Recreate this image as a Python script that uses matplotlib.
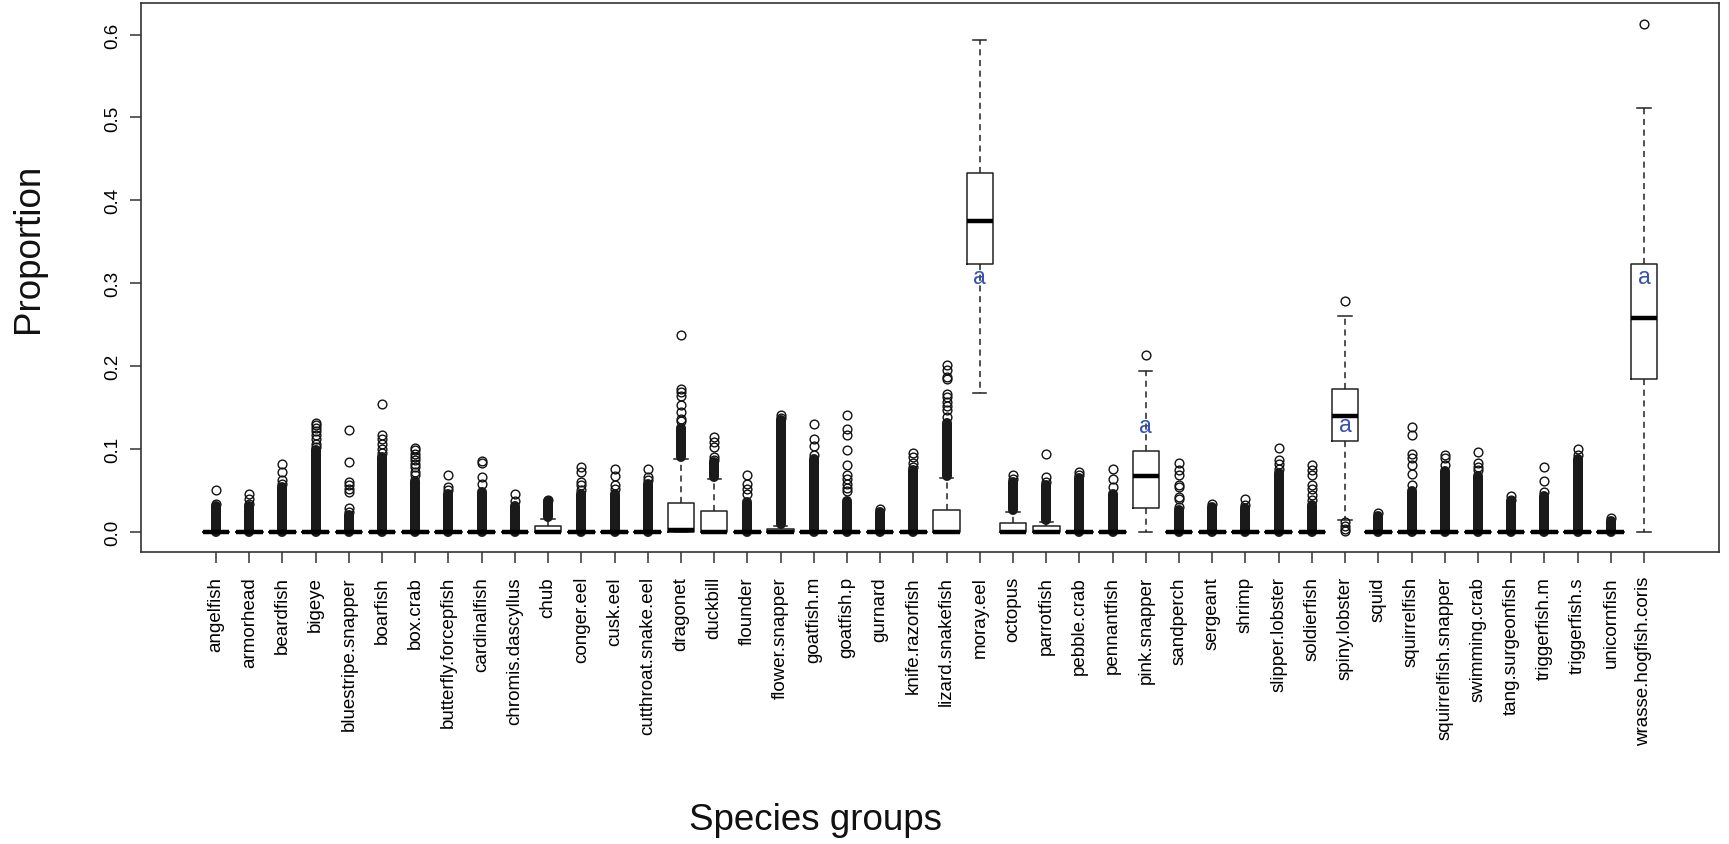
import numpy as np
import matplotlib
matplotlib.use('Agg')
import matplotlib.pyplot as plt

plt.rcParams['font.family'] = ['Liberation Sans', 'DejaVu Sans']

# species groups (x axis order)
groups = ['angelfish', 'armorhead', 'beardfish', 'bigeye', 'bluestripe.snapper', 'boarfish',
          'box.crab', 'butterfly.forcepfish', 'cardinalfish', 'chromis.dascyllus', 'chub',
          'conger.eel', 'cusk.eel', 'cutthroat.snake.eel', 'dragonet', 'duckbill', 'flounder',
          'flower.snapper', 'goatfish.m', 'goatfish.p', 'gurnard', 'knife.razorfish',
          'lizard.snakefish', 'moray.eel', 'octopus', 'parrotfish', 'pebble.crab', 'pennantfish',
          'pink.snapper', 'sandperch', 'sergeant', 'shrimp', 'slipper.lobster', 'soldierfish',
          'spiny.lobster', 'squid', 'squirrelfish', 'squirrelfish.snapper', 'swimming.crab',
          'tang.surgeonfish', 'triggerfish.m', 'triggerfish.s', 'unicornfish',
          'wrasse.hogfish.coris']

# box statistics
q1 = [0, 0, 0, 0, 0, 0, 0, 0, 0, 0, 0, 0, 0, 0, 0, 0, 0, 0, 0, 0, 0, 0, 0, 0.323, 0, 0, 0, 0,
      0.0297, 0, 0, 0, 0, 0, 0.1095, 0, 0, 0, 0, 0, 0, 0, 0, 0.185]
med = [0, 0, 0, 0, 0, 0, 0, 0, 0, 0, 0, 0, 0, 0, 0.0024, 0, 0, 0, 0, 0, 0, 0, 0, 0.3747, 0, 0,
       0, 0, 0.0674, 0, 0, 0, 0, 0, 0.140, 0, 0, 0, 0, 0, 0, 0, 0, 0.2585]
q3 = [0, 0, 0, 0, 0, 0, 0, 0, 0, 0, 0.0072, 0, 0, 0, 0.0357, 0.0257, 0, 0.0036, 0, 0, 0, 0,
      0.0269, 0.4325, 0.0112, 0.0072, 0, 0, 0.0975, 0, 0, 0, 0, 0, 0.1721, 0, 0, 0, 0, 0, 0,
      0, 0, 0.323]
whis_lo = [0, 0, 0, 0, 0, 0, 0, 0, 0, 0, 0, 0, 0, 0, 0, 0, 0, 0, 0, 0, 0, 0, 0, 0.1681, 0, 0,
           0, 0, 0, 0, 0, 0, 0, 0, 0.0152, 0, 0, 0, 0, 0, 0, 0, 0, 0]
whis_hi = [0, 0, 0, 0, 0, 0, 0, 0, 0, 0, 0.0164, 0, 0, 0, 0.0886, 0.0638, 0, 0.0076, 0, 0, 0,
           0, 0.0654, 0.5934, 0.0245, 0.0124, 0, 0, 0.1937, 0, 0, 0, 0, 0, 0.2612, 0, 0, 0, 0,
           0, 0, 0, 0, 0.511]

# span where the outlier circles overlap into a solid column (nan = none)
nan = np.nan
dense_lo = [0, 0, 0, 0, 0, 0, 0, 0, 0, 0, 0.018, 0, 0, 0, 0.091, 0.066, 0, 0.010, 0, 0, 0, 0,
            0.068, nan, 0.027, 0.015, 0, 0, nan, 0, 0, 0, 0, 0, nan, 0, 0, 0, 0, 0, 0, 0, 0, nan]
dense_hi = [0.032, 0.031, 0.055, 0.099, 0.021, 0.090, 0.062, 0.046, 0.048, 0.032, 0.037, 0.046,
            0.046, 0.058, 0.125, 0.085, 0.036, 0.135, 0.088, 0.038, 0.024, 0.075, 0.131, nan,
            0.060, 0.057, 0.065, 0.046, nan, 0.027, 0.030, 0.029, 0.071, 0.033, nan, 0.020,
            0.050, 0.074, 0.068, 0.037, 0.043, 0.088, 0.014, nan]

# separate outliers
outliers = [
    [0.0345, 0.0513],
    [0.0345, 0.0405, 0.0457],
    [0.0586, 0.0626, 0.0726, 0.0826],
    [0.1027, 0.1067, 0.1118, 0.1167, 0.1215, 0.1255, 0.1296, 0.1316],
    [0.0245, 0.0293, 0.0485, 0.0525, 0.0566, 0.0606, 0.0846, 0.1235],
    [0.0959, 0.1007, 0.1067, 0.1127, 0.1167, 0.1548],
    [0.0686, 0.0726, 0.0786, 0.0826, 0.0866, 0.0906, 0.0946, 0.0986, 0.1015],
    [0.0505, 0.0546, 0.0686],
    [0.0586, 0.0666, 0.0838, 0.0858],
    [0.0373, 0.0465],
    [0.0385],
    [0.0505, 0.0566, 0.0606, 0.0726, 0.0786],
    [0.0525, 0.0574, 0.0678, 0.0766],
    [0.0626, 0.0666, 0.0766],
    [0.1336, 0.1368, 0.1448, 0.1536, 0.1637, 0.1689, 0.1729, 0.2371],
    [0.0874, 0.0907, 0.1027, 0.1087, 0.1147],
    [0.0465, 0.0525, 0.0586, 0.0686],
    [0.1376, 0.1408],
    [0.0927, 0.1039, 0.1127, 0.1308],
    [0.0493, 0.0533, 0.0586, 0.0646, 0.0686, 0.0806, 0.0987, 0.1175, 0.1247, 0.1408],
    [0.0285],
    [0.0786, 0.0838, 0.0907, 0.0959],
    [0.1388, 0.1468, 0.1516, 0.1568, 0.1629, 0.1669, 0.1849, 0.187, 0.195, 0.201],
    [],
    [0.0638, 0.0686],
    [0.0606, 0.0666, 0.0947],
    [0.0686, 0.0726],
    [0.0546, 0.0646, 0.0766],
    [0.2138],
    [0.0305, 0.0405, 0.0426, 0.0546, 0.0574, 0.0686, 0.0755, 0.0835],
    [0.0337],
    [0.0325, 0.0405],
    [0.0766, 0.0826, 0.0866, 0.1015],
    [0.0385, 0.0445, 0.0525, 0.0566, 0.0686, 0.0746, 0.0806],
    [0.0012, 0.0036, 0.0076, 0.0125, 0.2792],
    [0.0233],
    [0.0566, 0.0706, 0.0814, 0.0894, 0.0947, 0.1175, 0.1268],
    [0.0806, 0.0894, 0.0927],
    [0.0747, 0.079, 0.0835, 0.0969],
    [0.039, 0.0434],
    [0.048, 0.0612, 0.079],
    [0.0925, 0.100],
    [0.0167],
    [0.6129],
]

# significance letters
letter_groups = ['moray.eel', 'pink.snapper', 'spiny.lobster', 'wrasse.hogfish.coris']
letter_y = [0.3075, 0.1276, 0.1288, 0.3075]

n = len(groups)
pos = np.arange(1, n + 1)

stats = []
for i in range(n):
    stats.append({'q1': q1[i], 'med': med[i], 'q3': q3[i], 'whislo': whis_lo[i],
                  'whishi': whis_hi[i], 'fliers': outliers[i], 'label': groups[i]})

fig = plt.figure(figsize=(17.29, 8.45), dpi=100)
ax = fig.add_axes([0.08155, 0.345, 0.91267, 0.6497])

line_col = '#222222'
ax.bxp(stats, positions=pos, widths=0.8, capwidths=0.4,
       boxprops=dict(color=line_col, linewidth=1.1),
       whiskerprops=dict(color=line_col, linewidth=1.1, linestyle=(0, (4, 3))),
       capprops=dict(color=line_col, linewidth=1.1),
       medianprops=dict(color='black', linewidth=3.2, solid_capstyle='butt'),
       flierprops=dict(marker='o', markerfacecolor='none', markeredgecolor='#111111',
                       markersize=6.3, markeredgewidth=1.0))

# solid columns of overlapping outliers
lo = np.array(dense_lo, dtype=float)
hi = np.array(dense_hi, dtype=float)
ok = ~np.isnan(hi)
cols = ax.vlines(pos[ok], lo[ok], hi[ok], colors='#1a1a1a', linewidth=7.2)
cols.set_capstyle('round')

fs_a = 16.5
for g, yv in zip(letter_groups, letter_y):
    ax.annotate('a', (groups.index(g) + 1, yv), xytext=(0, -0.26 * fs_a),
                textcoords='offset points', ha='center', va='baseline',
                fontsize=fs_a, color='#3452b4', family='Liberation Sans')

ax.set_xlim(0.5 - 0.04 * n, n + 0.5 + 0.04 * n)
ymax = 0.6129
ax.set_ylim(-0.04 * ymax, ymax * 1.04)

ax.set_xticks(pos)
ax.set_xticklabels(groups, rotation=90, fontsize=13.5)
yt = [0.0, 0.1, 0.2, 0.3, 0.4, 0.5, 0.6]
ax.set_yticks(yt)
ax.set_yticklabels(['%.1f' % v for v in yt], rotation=90, va='center', fontsize=13.5)
ax.tick_params(axis='x', length=8, width=1.1, color='#333333', pad=9)
ax.tick_params(axis='y', length=8, width=1.1, color='#333333', pad=6)
for s in ax.spines.values():
    s.set_linewidth(1.2)
    s.set_color('#333333')

fig.text(38.3 / 1729, 1 - 248 / 845, 'Proportion', rotation=90, rotation_mode='anchor',
         ha='center', va='baseline', fontsize=26.5, color='#111111')
fig.text(815.5 / 1729, 1 - 830 / 845, 'Species groups', ha='center', va='baseline',
         fontsize=26.5, color='#111111')

fig.savefig('out.png', dpi=100)
